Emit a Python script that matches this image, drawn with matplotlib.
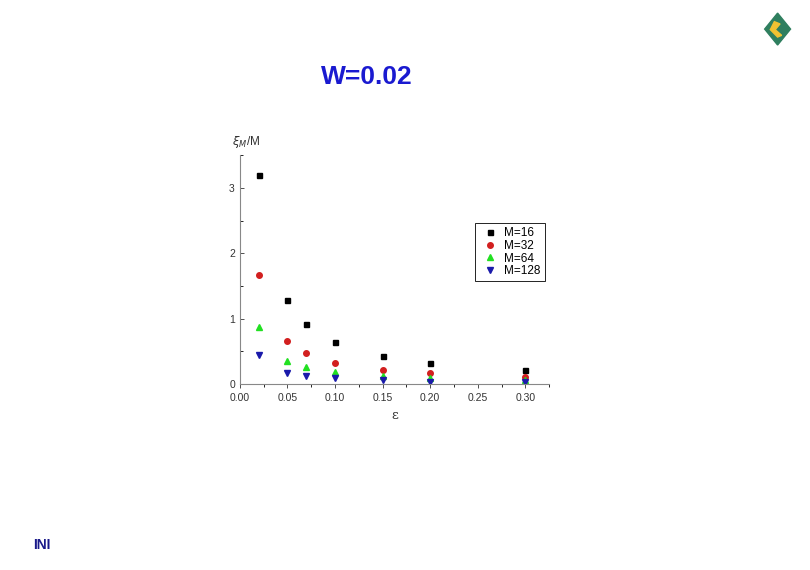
import numpy as np
import matplotlib
matplotlib.use("Agg")
import matplotlib.pyplot as plt
from matplotlib.patches import Polygon

plt.rcParams['font.family'] = ['Liberation Sans', 'DejaVu Sans']

# datos
eps = [0.02, 0.05, 0.07, 0.10, 0.15, 0.20, 0.30]
m16 = [3.20, 1.29, 0.92, 0.65, 0.43, 0.32, 0.22]
m32 = [1.67, 0.66, 0.47, 0.33, 0.22, 0.17, 0.11]
m64 = [0.87, 0.36, 0.26, 0.18, 0.13, 0.09, 0.06]
m128 = [0.44, 0.17, 0.12, 0.09, 0.06, 0.04, 0.03]

fig = plt.figure(figsize=(8.1, 5.7), dpi=100)
ax = fig.add_axes([0.296, 0.326, 0.382, 0.402])

ax.plot(eps, m16, "s", c="black", ms=3.6, label="M=16")
ax.plot(eps, m32, "o", c="#d21f1f", ms=4, label="M=32")
ax.plot(eps, m64, "^", c="#22e022", ms=4.5, label="M=64")
ax.plot(eps, m128, "v", c="#1a1aaa", ms=4.5, label="M=128")

ax.set_xlim(0, 0.325)
ax.set_ylim(0, 3.5)
ax.set_xticks([0.0, 0.05, 0.10, 0.15, 0.20, 0.25, 0.30])
ax.set_xticklabels(["0.00", "0.05", "0.10", "0.15", "0.20", "0.25", "0.30"])
ax.set_xticks(np.arange(0.025, 0.33, 0.05), minor=True)
ax.set_yticks([0, 1, 2, 3])
ax.set_yticks([0.5, 1.5, 2.5, 3.5], minor=True)
ax.tick_params(labelsize=7.5, colors="#333333", width=0.6, length=3)
ax.tick_params(which="minor", width=0.6, length=2)
ax.tick_params(axis="y", which="both", direction="in")
for s in ["top", "right"]:
    ax.spines[s].set_visible(False)
for s in ["left", "bottom"]:
    ax.spines[s].set_color("#888888")

ax.set_xlabel("ε", fontsize=9.5, family="DejaVu Serif", color="#333333")
fig.text(0.286, 0.745, "$\\xi_M$/M", fontsize=8.5, color="#333333")

leg = ax.legend(loc="upper right", bbox_to_anchor=(1.005, 0.728), fontsize=8.5,
                fancybox=False, edgecolor="black", framealpha=1,
                handletextpad=0.3, labelspacing=0.05, borderpad=0.35,
                handlelength=1.8)
leg.get_frame().set_linewidth(0.6)

fig.text(0.453, 0.865, "W=0.02", fontsize=19, fontweight="bold",
         color="#1a1ad0", ha="center", va="center")
fig.text(0.052, 0.044, "INI", fontsize=10, fontweight="bold",
         color="#1a1a8a", ha="center", va="center")

# logo
fig.patches.append(Polygon([[0.944, 0.949], [0.960, 0.977], [0.976, 0.949], [0.960, 0.921]],
                           closed=True, transform=fig.transFigure, color="#2f7f5f"))
fig.patches.append(Polygon([[0.956, 0.962], [0.963, 0.958], [0.957, 0.948], [0.965, 0.938],
                            [0.960, 0.935], [0.951, 0.948]],
                           closed=True, transform=fig.transFigure, color="#f2c232"))

fig.savefig("out.png", dpi=100)
plt.close()
